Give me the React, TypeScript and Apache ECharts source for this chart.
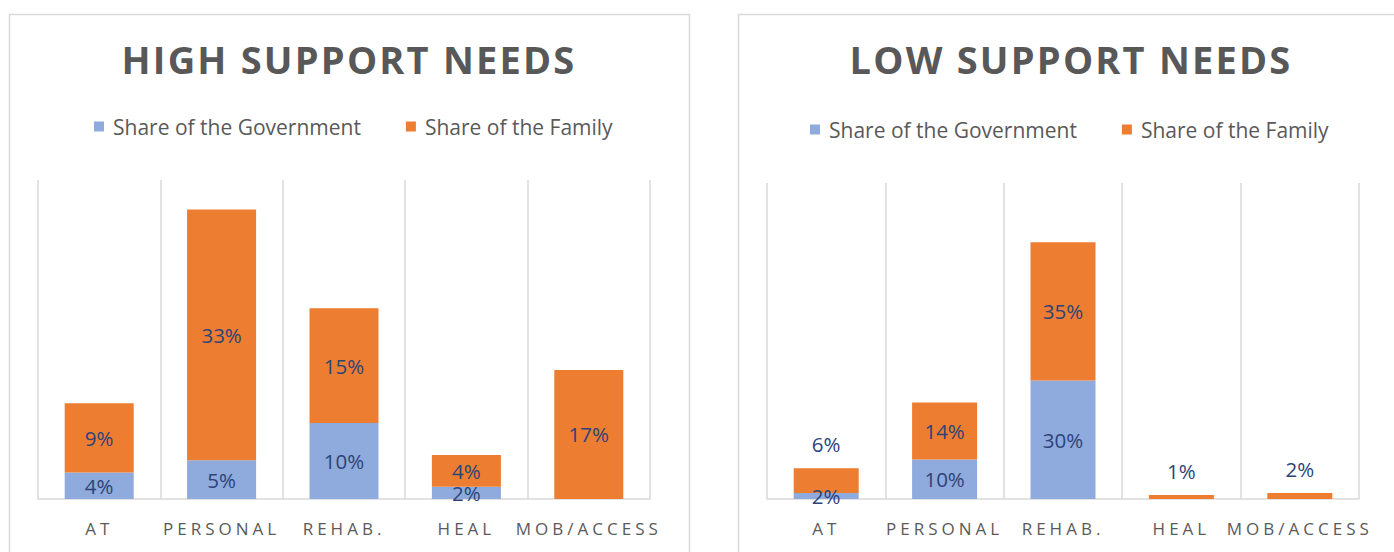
import React, { useEffect, useRef } from "react";
import * as echarts from "echarts";

const categories = ["AT", "PERSONAL", "REHAB.", "HEAL", "MOB/ACCESS"];
const highGov = [3.5, 5.1, 10, 1.6, 0];
const highFamily = [9.1, 33, 15.1, 4.2, 17];
const lowGov = [1.5, 10, 30, 0, 0];
const lowFamily = [6.3, 14.4, 35, 1, 1.5];
const lowLabelAbove = [0, 3, 4];
const seriesNames = ["Share of the Government", "Share of the Family"];
const titles = ["HIGH SUPPORT NEEDS", "LOW SUPPORT NEEDS"];

const BLUE = "#8FAADC";
const ORANGE = "#ED7D31";
const LABEL = "#2c4478";
const FONT = "'Open Sans', sans-serif";

export default function App() {
  const ref = useRef<HTMLDivElement>(null);
  useEffect(() => {
    if (!ref.current) return;
    const chart = echarts.init(ref.current, undefined, { renderer: "svg" });
    const fmt = (p: any) => (p.value > 0 ? Math.round(p.value) + "%" : "");
    const labelBase = {
      show: true,
      position: "inside",
      color: LABEL,
      fontFamily: FONT,
      fontSize: 20.5,
      formatter: fmt,
    };
    const xAxisBase = {
      type: "category",
      data: categories,
      axisTick: { show: false },
      axisLine: { show: true, lineStyle: { color: "#d9d9d9", width: 1.5 } },
      splitLine: { show: true, interval: 0, lineStyle: { color: "#d9d9d9", width: 1.5 } },
      axisLabel: { color: "#5a5a5a", fontFamily: FONT, fontSize: 17, margin: 21, interval: 0 },
    };
    const yAxisBase = { type: "value", min: 0, show: false, splitLine: { show: false } };
    const legendBase = {
      itemWidth: 10,
      itemHeight: 10,
      itemGap: 45,
      icon: "rect",
      textStyle: { color: "#595959", fontFamily: FONT, fontSize: 21, padding: [0, 0, 0, 4] },
      data: seriesNames,
    };
    const titleStyle = { color: "#585858", fontFamily: FONT, fontWeight: "bold", fontSize: 38 };
    const option: any = {
      animation: false,
      backgroundColor: "#ffffff",
      title: [
        { text: titles[0], left: 344, top: 35, textAlign: "center", textStyle: titleStyle },
        { text: titles[1], left: 1066, top: 35, textAlign: "center", textStyle: titleStyle },
      ],
      legend: [
        { ...legendBase, left: 89, top: 111 },
        { ...legendBase, left: 805, top: 114 },
      ],
      grid: [
        { left: 38, right: 1394 - 650, top: 180, bottom: 53 },
        { left: 767, right: 1394 - 1359, top: 183, bottom: 53 },
      ],
      xAxis: [
        { ...xAxisBase, gridIndex: 0 },
        { ...xAxisBase, gridIndex: 1 },
      ],
      yAxis: [
        { ...yAxisBase, gridIndex: 0, max: 42 },
        { ...yAxisBase, gridIndex: 1, max: 80 },
      ],
      graphic: [
        {
          type: "rect",
          shape: { x: 9.5, y: 14.5, width: 680, height: 600 },
          style: { fill: "none", stroke: "#d9d9d9", lineWidth: 1.5 },
          silent: true,
        },
        {
          type: "rect",
          shape: { x: 738.5, y: 14.5, width: 700, height: 600 },
          style: { fill: "none", stroke: "#d9d9d9", lineWidth: 1.5 },
          silent: true,
        },
      ],
      series: [
        {
          name: seriesNames[0],
          type: "bar",
          stack: "high",
          xAxisIndex: 0,
          yAxisIndex: 0,
          barWidth: 69,
          itemStyle: { color: BLUE },
          label: labelBase,
          data: highGov,
        },
        {
          name: seriesNames[1],
          type: "bar",
          stack: "high",
          xAxisIndex: 0,
          yAxisIndex: 0,
          barWidth: 69,
          itemStyle: { color: ORANGE },
          label: labelBase,
          data: highFamily,
        },
        {
          name: seriesNames[0],
          type: "bar",
          stack: "low",
          xAxisIndex: 1,
          yAxisIndex: 1,
          barWidth: 65,
          itemStyle: { color: BLUE },
          label: labelBase,
          data: lowGov,
        },
        {
          name: seriesNames[1],
          type: "bar",
          stack: "low",
          xAxisIndex: 1,
          yAxisIndex: 1,
          barWidth: 65,
          itemStyle: { color: ORANGE },
          label: labelBase,
          data: lowFamily.map((v, i) =>
            lowLabelAbove.includes(i)
              ? { value: v, label: { position: "top", distance: 14 } }
              : v
          ),
        },
      ],
    };
    chart.setOption(option);
    return () => chart.dispose();
  }, []);
  return (
    <>
      <style>{`
        text[fill="#5a5a5a"] { letter-spacing: 4px; }
        text[fill="#585858"] { letter-spacing: 2.2px; }
      `}</style>
      <div
        ref={ref}
        style={{ position: "fixed", left: 0, top: 0, width: 1394, height: 552 }}
      />
    </>
  );
}
